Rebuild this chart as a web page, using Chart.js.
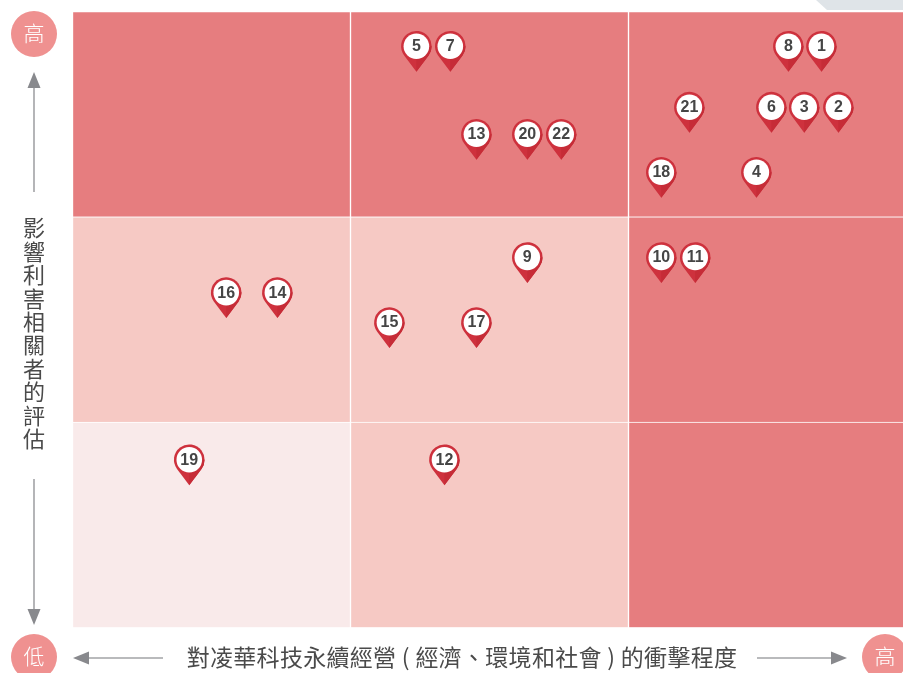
<!DOCTYPE html>
<html><head><meta charset="utf-8">
<style>html,body{margin:0;padding:0;background:#fff;overflow:hidden;width:903px;height:673px}#w{width:903px;height:673px;overflow:hidden}canvas{display:block}</style>
<script src="https://cdn.jsdelivr.net/npm/chart.js@4"></script>
</head><body><div id="w"><canvas id="c" width="910" height="673" style="width:910px;height:673px"></canvas></div>
<script>
const columns = ['低', '中', '高'];
const rowBottom = [1, 1, 1];
const rowMiddle = [1, 1, 1];
const rowTop = [1, 1, 1];
const levelBottom = [0, 1, 2];
const levelMiddle = [1, 1, 2];
const levelTop = [2, 2, 2];
const pinIds = [5, 7, 8, 1, 21, 6, 3, 2, 13, 20, 22, 18, 4, 9, 10, 11, 16, 14, 15, 17, 19, 12];
const impactX = [1.237, 1.359, 2.575, 2.694, 2.219, 2.514, 2.632, 2.755, 1.453, 1.636, 1.758, 2.118, 2.460, 1.636, 2.118, 2.240, 0.553, 0.737, 1.140, 1.453, 0.420, 1.338];
const stakeholderY = [2.831, 2.831, 2.831, 2.831, 2.534, 2.534, 2.534, 2.534, 2.402, 2.402, 2.402, 2.217, 2.217, 1.802, 1.802, 1.802, 1.631, 1.631, 1.485, 1.485, 0.817, 0.817];
const xTitle = '對凌華科技永續經營 ( 經濟、環境和社會 ) 的衝擊程度';
const yTitle = '影響利害相關者的評估';
const highLabel = '高';
const lowLabel = '低';

const palette = ['#f9eaea', '#f6c9c4', '#e67d7f'];
const CJK = '"Noto Sans CJK TC","Noto Sans CJK SC",sans-serif';
const cellDs = (data, lv) => ({type:'bar', data, backgroundColor: lv.map(l => palette[l]), borderColor:'#fff', borderWidth:1, barPercentage:1, categoryPercentage:1, grouped:false, stack:'s', xAxisID:'x', yAxisID:'y', order:2});

function arrow(ctx, x1, y1, x2, y2, hl, hw) {
  const a = Math.atan2(y2-y1, x2-x1), c = Math.cos(a), s = Math.sin(a);
  ctx.strokeStyle = '#a2a3a6'; ctx.lineWidth = 1.6;
  ctx.beginPath(); ctx.moveTo(x1,y1); ctx.lineTo(x2-c*hl, y2-s*hl); ctx.stroke();
  ctx.fillStyle = '#88898d';
  ctx.beginPath(); ctx.moveTo(x2,y2);
  ctx.lineTo(x2-c*hl-s*hw, y2-s*hl+c*hw);
  ctx.lineTo(x2-c*hl+s*hw, y2-s*hl-c*hw);
  ctx.closePath(); ctx.fill();
}
function badge(ctx, x, y, t) {
  ctx.fillStyle = '#ef9190'; ctx.beginPath(); ctx.arc(x,y,23,0,Math.PI*2); ctx.fill();
  ctx.fillStyle = '#fff'; ctx.font = '300 21px '+CJK; ctx.textAlign='center'; ctx.textBaseline='middle';
  ctx.fillText(t, x, y-1);
}
function pin(ctx, x, y, n) {
  const R = 15.3, tip = 25.5;
  const ang = Math.acos(R/tip);
  const a1 = Math.PI/2 - ang, a2 = Math.PI/2 + ang;
  ctx.beginPath(); ctx.arc(x,y,R,a2,a1+Math.PI*2); ctx.lineTo(x,y+tip); ctx.closePath();
  ctx.fillStyle = '#ce313d'; ctx.fill();
  ctx.save(); ctx.beginPath(); ctx.rect(x,y,20,30); ctx.clip();
  ctx.beginPath(); ctx.arc(x,y,R,a2,a1+Math.PI*2); ctx.lineTo(x,y+tip); ctx.closePath();
  ctx.fillStyle = '#c62c37'; ctx.fill(); ctx.restore();
  ctx.fillStyle = '#fff'; ctx.beginPath(); ctx.arc(x,y,12.8,0,Math.PI*2); ctx.fill();
  ctx.fillStyle = '#454545'; ctx.font = 'bold 16px "Liberation Sans",Arial,sans-serif';
  ctx.textAlign='center'; ctx.textBaseline='middle';
  ctx.fillText(String(n), x, y+0.5);
}
const decor = {
  id:'decor',
  beforeDatasetsDraw(chart){
    const c = chart.ctx; c.save();
    c.fillStyle='#dfe4e8'; c.beginPath(); c.moveTo(816,0); c.lineTo(903,0); c.lineTo(903,10); c.lineTo(827,10); c.closePath(); c.fill();
    c.restore();
  },
  afterDatasetsDraw(chart){
    const c = chart.ctx; c.save();
    const meta = chart.getDatasetMeta(3);
    meta.data.forEach((p,i)=>pin(c,p.x,p.y,pinIds[i]));
    badge(c,34,34,highLabel); badge(c,34,657,lowLabel); badge(c,885,657,highLabel);
    arrow(c,34,192,34,72,16,6.5);
    arrow(c,34,479,34,625,16,6.5);
    arrow(c,163,658,73,658,16,6.5);
    arrow(c,757,658,847,658,16,6.5);
    c.fillStyle='#4a4a4a'; c.font='400 22px '+CJK; c.textAlign='center'; c.textBaseline='middle';
    [...yTitle].forEach((ch,i)=>c.fillText(ch,34,228+i*23.4));
    c.font='400 23px '+CJK;
    c.letterSpacing='0.3px';
    c.fillText(xTitle, 462, 657);
    c.restore();
  }
};
new Chart(document.getElementById('c'), {
  data:{labels:columns, datasets:[
    cellDs(rowBottom, levelBottom), cellDs(rowMiddle, levelMiddle), cellDs(rowTop, levelTop),
    {type:'scatter', data:impactX.map((x,i)=>({x, y:stakeholderY[i]})), pointRadius:0, pointHoverRadius:0, xAxisID:'xp', yAxisID:'y', order:1}
  ]},
  options:{
    responsive:false, animation:false,
    layout:{padding:{left:72.5,right:3.5,top:11.5,bottom:45.5}},
    plugins:{legend:{display:false},tooltip:{enabled:false}},
    scales:{
      x:{type:'category',display:false,stacked:true,offset:true,grid:{display:false}},
      xp:{type:'linear',display:false,min:0,max:3,grid:{display:false}},
      y:{type:'linear',display:false,stacked:true,min:0,max:3,grid:{display:false}}
    }
  },
  plugins:[decor]
});
</script></body></html>
